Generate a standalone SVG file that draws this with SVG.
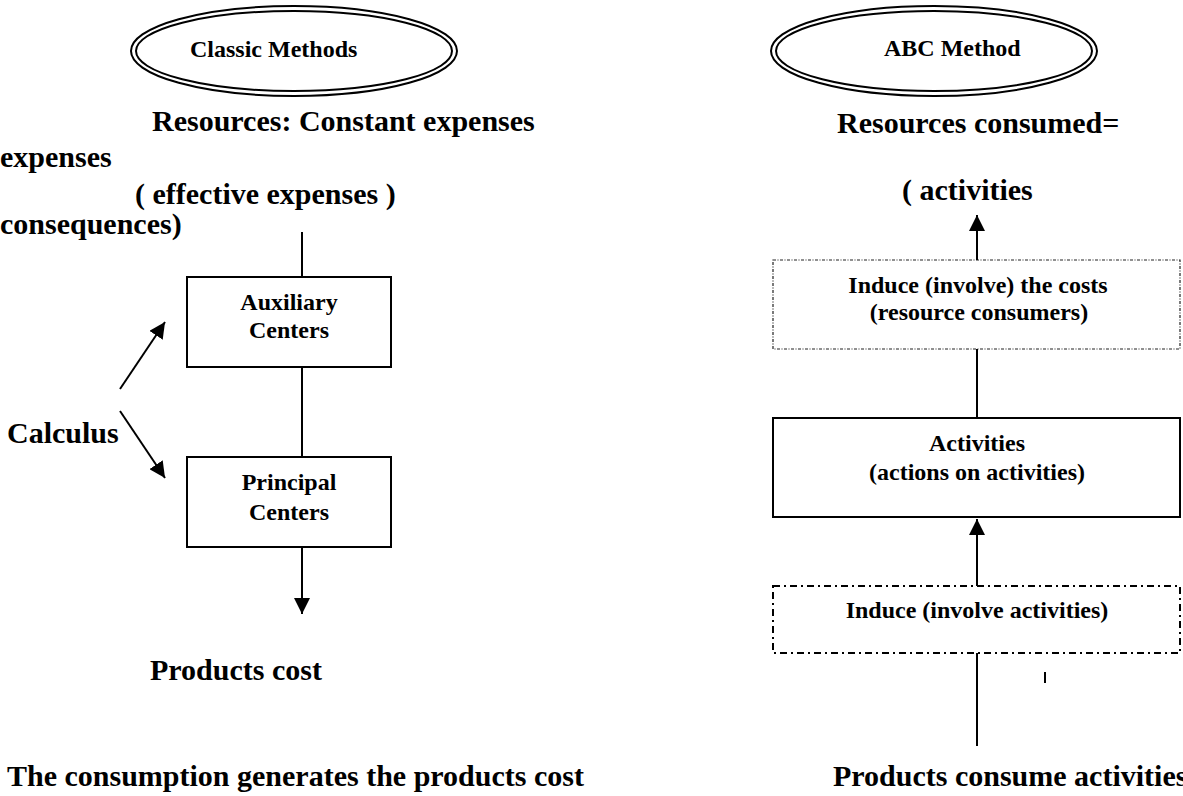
<svg xmlns="http://www.w3.org/2000/svg" width="1183" height="796" viewBox="0 0 1183 796">
<style>
text{font-family:"Liberation Serif","Times New Roman",serif;font-weight:bold;fill:#000}
.big{font-size:30px}
.mid{font-size:24px}
.c{text-anchor:middle}
.box{fill:#fff;stroke:#000;stroke-width:2}
.dot{fill:#fff;stroke:#222;stroke-width:1.2;stroke-dasharray:3 1.5 1 1.5}
.dashdot{fill:#fff;stroke:#000;stroke-width:2;stroke-dasharray:7 4 2 4}
.ell{fill:none;stroke:#000;stroke-width:2}
.ln{stroke:#000;stroke-width:2;fill:none}
</style>
<defs>
<marker id="ah" viewBox="0 0 10 10" refX="10" refY="5" markerWidth="8" markerHeight="8" markerUnits="strokeWidth" orient="auto">
<path d="M0,0 L10,5 L0,10 z" fill="#000"/>
</marker>
</defs>
<rect width="1183" height="796" fill="#fff"/>

<g id="classic-methods">
<ellipse class="ell" cx="294" cy="51" rx="163" ry="45"/>
<ellipse class="ell" cx="294" cy="51" rx="158" ry="40"/>
<text class="mid" x="190" y="57">Classic Methods</text>
</g>

<g id="abc-method">
<ellipse class="ell" cx="934" cy="51" rx="163" ry="45"/>
<ellipse class="ell" cx="934" cy="51" rx="158" ry="40"/>
<text class="mid" x="884" y="56">ABC Method</text>
</g>

<g id="left-resources">
<text class="big" x="152" y="131">Resources: Constant expenses</text>
<text class="big" x="0" y="167">expenses</text>
<text class="big" x="135" y="204">( effective expenses )</text>
<text class="big" x="0" y="234">consequences)</text>
</g>

<g id="auxiliary-centers">
<rect class="box" x="187" y="277" width="204" height="90"/>
<text class="mid c" x="289" y="310">Auxiliary</text>
<text class="mid c" x="289" y="338">Centers</text>
</g>

<g id="principal-centers">
<rect class="box" x="187" y="457" width="204" height="90"/>
<text class="mid c" x="289" y="490">Principal</text>
<text class="mid c" x="289" y="520">Centers</text>
</g>

<g id="calculus">
<text class="big" x="7" y="443">Calculus</text>
</g>

<g id="products-cost">
<text class="big" x="150" y="680">Products cost</text>
</g>

<g id="left-caption">
<text class="big" x="7" y="786">The consumption generates the products cost</text>
</g>

<g id="right-resources">
<text class="big" x="837" y="133">Resources consumed=</text>
<text class="big" x="902" y="200">( activities</text>
</g>

<g id="induce-costs">
<rect class="dot" x="773" y="260" width="407" height="89"/>
<text class="mid c" x="978" y="293">Induce (involve) the costs</text>
<text class="mid c" x="979" y="320">(resource consumers)</text>
</g>

<g id="activities">
<rect class="box" x="773" y="418" width="407" height="99"/>
<text class="mid c" x="977" y="451">Activities</text>
<text class="mid c" x="977" y="480">(actions on activities)</text>
</g>

<g id="induce-activities">
<rect class="dashdot" x="773" y="586" width="407" height="67"/>
<text class="mid c" x="977" y="618">Induce (involve activities)</text>
</g>

<g id="right-caption">
<text class="big" x="833" y="786">Products consume activities</text>
</g>

<g id="connectors">
<line class="ln" x1="302" y1="232" x2="302" y2="277"/>
<line class="ln" x1="302" y1="367" x2="302" y2="457"/>
<line class="ln" x1="302" y1="547" x2="302" y2="614" marker-end="url(#ah)"/>
<line class="ln" x1="120" y1="389" x2="165" y2="322" marker-end="url(#ah)"/>
<line class="ln" x1="120" y1="411" x2="165" y2="478" marker-end="url(#ah)"/>
<line class="ln" x1="977" y1="260" x2="977" y2="215" marker-end="url(#ah)"/>
<line class="ln" x1="977" y1="349" x2="977" y2="418"/>
<line class="ln" x1="977" y1="586" x2="977" y2="519" marker-end="url(#ah)"/>
<line class="ln" x1="977" y1="653" x2="977" y2="746"/>
<line class="ln" x1="1045" y1="672" x2="1045" y2="683"/>
</g>
</svg>
